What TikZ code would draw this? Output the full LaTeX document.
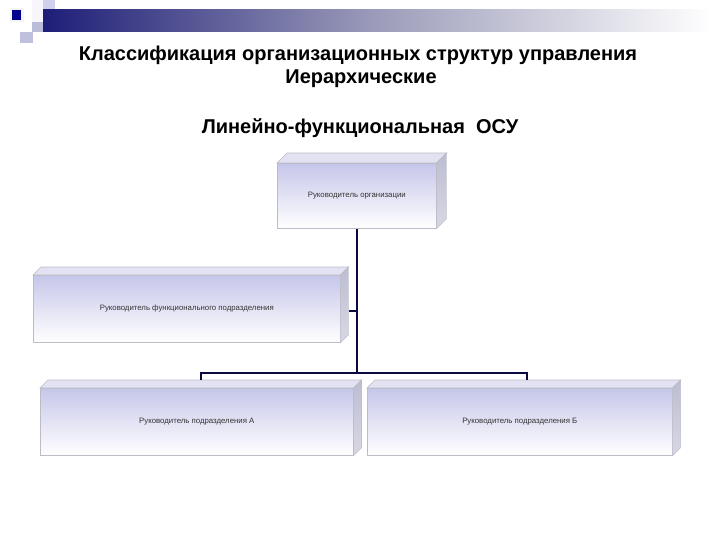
\documentclass[tikz,border=0pt]{standalone}
\usepackage{fontspec}
\setmainfont{Liberation Sans}
\usetikzlibrary{calc}
\definecolor{lav}{HTML}{C6C6EA}
\definecolor{topface}{HTML}{E2E2F2}
\definecolor{sideface}{HTML}{BDBDD2}
\definecolor{edgegray}{HTML}{BCBCC8}
\definecolor{linkcol}{HTML}{0A0A40}
\definecolor{navy}{HTML}{1E1E78}
\definecolor{barmid}{HTML}{9C9CBA}
\tikzset{
  front/.style={anchor=north west, inner sep=0pt, draw=edgegray, line width=0.6pt,
    top color=lav, bottom color=white, font=\fontsize{7.8}{9}\selectfont, text=black!80},
  face/.style={draw=edgegray, line width=0.6pt},
  link/.style={draw=linkcol, line width=2pt},
  title/.style={font=\bfseries\fontsize{20}{22}\selectfont, text=black}
}
\begin{document}
\begin{tikzpicture}[x=1pt,y=-1pt]
\useasboundingbox (0,0) rectangle (720,540);
% decoration
\fill[color=white!85!lav] (32,0) rectangle (55,22);
\fill[color=lav!80!white] (43,0) rectangle (55,12);
\shade[left color=navy, right color=white, middle color=barmid] (43,10) rectangle (712,32);
\fill[color=lav!85!gray] (32,22) rectangle (43,32);
\fill[color=lav!70!navy!60!white] (20,32) rectangle (33,43);
\fill[color=white!80!lav] (10,8) rectangle (24,22);
\fill[color=blue!55!black] (12,10) rectangle (21,20);
% titles
\node[title] (t1) at (358,55) {Классификация организационных структур управления};
\node[title] (t2) at (361,79) {Иерархические};
\node[title] (t3) at (360,128) {Линейно-функциональная\ \ ОСУ};
% boxes
\newcommand{\cubefaces}[2]{%
  \filldraw[face, fill=topface] (#1.north west) -- ++(#2,-#2) -- ($(#1.north east)+(#2,-#2)$) -- (#1.north east) -- cycle;
  \shade[face, top color=sideface, bottom color=sideface!60!white] (#1.north east) -- ++(#2,-#2) -- ($(#1.south east)+(#2,-#2)$) -- (#1.south east) -- cycle;
}
\node[front, minimum width=159pt, minimum height=65pt] (org) at (277,163) {Руководитель организации};
\cubefaces{org}{10}
\node[front, minimum width=307pt, minimum height=67pt] (func) at (33,275) {Руководитель функционального подразделения};
\cubefaces{func}{8}
\node[front, minimum width=313pt, minimum height=67pt] (A) at (40,388) {Руководитель подразделения А};
\cubefaces{A}{8}
\node[front, minimum width=305pt, minimum height=67pt] (B) at (367,388) {Руководитель подразделения Б};
\cubefaces{B}{8}
% connectors
\coordinate (hub) at ($(org.south)+(0,144)$);
\coordinate (Atop) at ($(A.north)+(4,-8)$);
\coordinate (Btop) at ($(B.north)+(7,-8)$);
\coordinate (fside) at ($(func.east)+(8,2)$);
\draw[link] (org.south) -- (hub);
\draw[link] (Atop) -- (Atop |- hub) -- (Btop |- hub) -- (Btop);
\draw[link] (fside) -- (fside -| org.south);
\end{tikzpicture}
\end{document}
